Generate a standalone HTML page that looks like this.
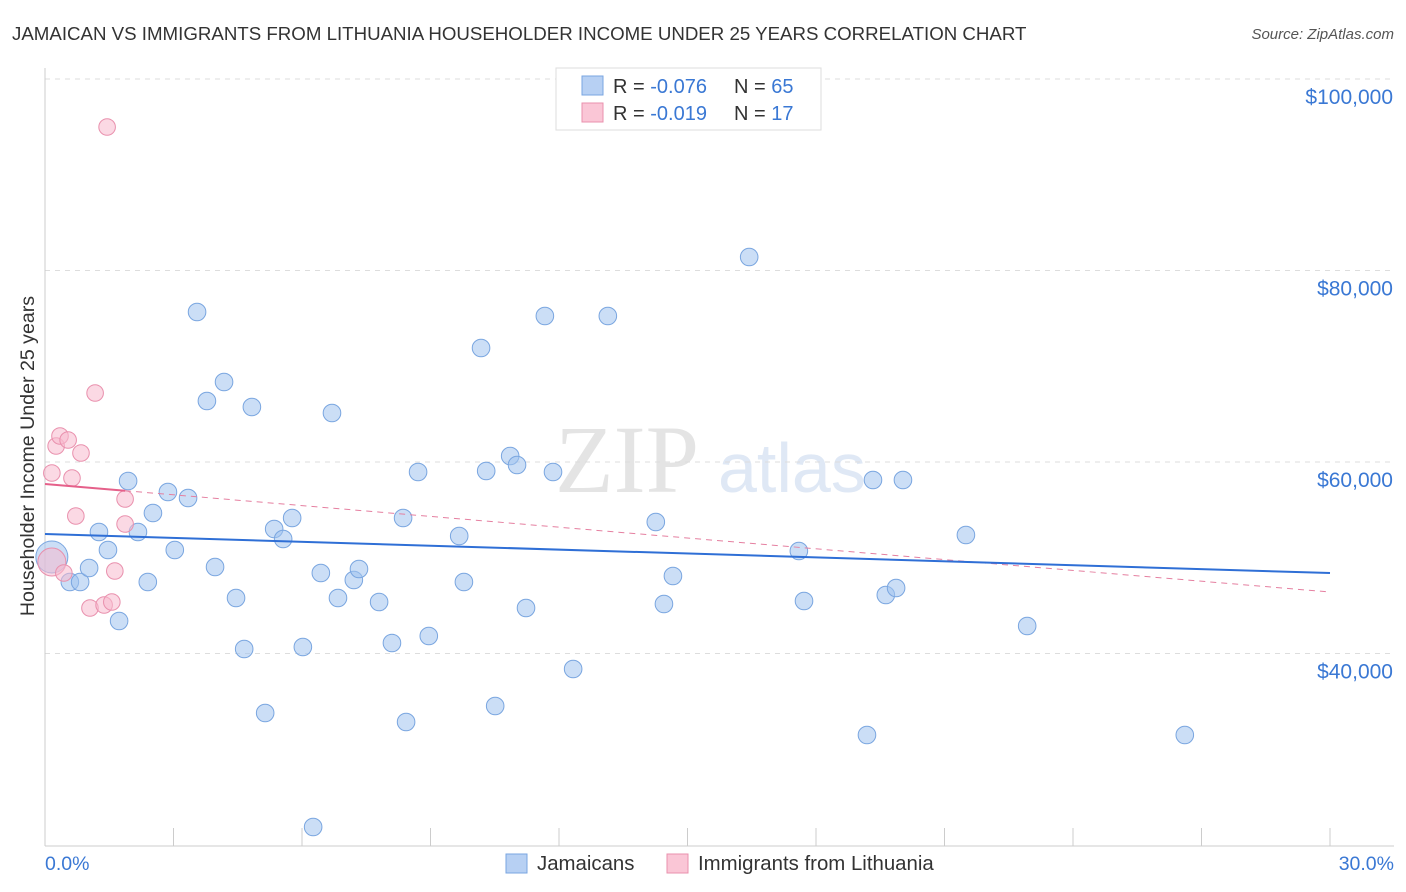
<!DOCTYPE html>
<html><head><meta charset="utf-8">
<style>
body{margin:0;background:#fff;font-family:"Liberation Sans",sans-serif;}
svg{display:block}
</style></head>
<body>
<svg id="chart" width="1406" height="892" xmlns="http://www.w3.org/2000/svg">
<text x="12" y="40" font-size="18.7" fill="#333">JAMAICAN VS IMMIGRANTS FROM LITHUANIA HOUSEHOLDER INCOME UNDER 25 YEARS CORRELATION CHART</text>
<text x="1394" y="39" font-size="15" fill="#555" text-anchor="end" font-style="italic">Source: ZipAtlas.com</text>
<text x="555" y="492" font-size="96" fill="#e4e4e4" font-family="Liberation Serif, serif">ZIP</text>
<text x="718" y="492" font-size="70" fill="#dfe8f5">atlas</text>
<g id="grid"></g>
<g id="axes"></g>
<g id="marks"></g>
<text transform="translate(34,456) rotate(-90)" font-size="19.6" fill="#333" text-anchor="middle">Householder Income Under 25 years</text>
<text x="45" y="870" font-size="19.5" fill="#3a78d4">0.0%</text>
<text x="1394" y="870" font-size="19.5" fill="#3a78d4" text-anchor="end">30.0%</text>
<g>
<rect x="556" y="68" width="265" height="62" fill="#fff" stroke="#ddd"/>
<rect x="582" y="76" width="21" height="19" fill="#b7d0f3" stroke="#7aa6e0"/>
<rect x="582" y="103" width="21" height="19" fill="#fac6d6" stroke="#e990ad"/>
<text x="613" y="93" font-size="20" fill="#333">R = <tspan fill="#3a78d4">-0.076</tspan><tspan x="734">N = </tspan><tspan fill="#3a78d4">65</tspan></text>
<text x="613" y="120" font-size="20" fill="#333">R = <tspan fill="#3a78d4"> -0.019</tspan><tspan x="734">N = </tspan><tspan fill="#3a78d4"> 17</tspan></text>
</g>
<g>
<rect x="506" y="854" width="21" height="19" fill="#b7d0f3" stroke="#7aa6e0"/>
<text x="537" y="870" font-size="20.4" fill="#333">Jamaicans</text>
<rect x="667" y="854" width="21" height="19" fill="#fac6d6" stroke="#e990ad"/>
<text x="698" y="870" font-size="20.4" fill="#333">Immigrants from Lithuania</text>
</g>
</svg>
<script>
const yTicks=[40000,60000,80000,100000];
const yTickLabels=["$40,000","$60,000","$80,000","$100,000"];
const xTicks=[0,3,6,9,12,15,18,21,24,27,30];
const blueX=[0.16,0.58,0.82,1.03,1.26,1.47,1.73,1.94,2.17,2.40,2.52,2.87,3.03,3.34,3.55,3.78,3.97,4.18,4.46,4.65,4.83,5.14,5.35,5.56,5.77,6.02,6.26,6.44,6.70,6.84,7.21,7.33,7.80,8.10,8.36,8.43,8.71,8.96,9.67,9.78,10.18,10.30,10.51,10.86,11.02,11.23,11.67,11.86,12.33,13.14,14.26,14.45,14.66,16.44,17.60,17.72,19.19,19.33,19.63,19.87,20.03,21.50,22.93,26.61];
const blueY=[50078,47467,47467,48929,52689,50809,43394,58015,52689,47467,54673,56866,50809,56240,75665,66370,49033,68355,45796,40469,65744,33785,53002,51958,54151,40678,21879,48407,65117,45796,47676,48824,45378,41096,54151,32845,58955,41827,52271,47467,71906,59060,34516,60626,59686,44751,75248,58955,38380,75248,53733,45169,48093,81410,50704,45482,31487,58120,46109,46840,58120,52375,42871,31487];
const pinkX=[0.16,0.16,0.26,0.35,0.54,0.44,0.63,0.72,0.84,1.05,1.17,1.38,1.45,1.56,1.63,1.87,1.87];
const pinkY=[49555,58851,61671,62715,62297,48407,58328,54360,60939,44751,67206,45065,94987,45378,48616,56135,53524];
const blueTrend=[52480,48405];
const pinkTrend=[57702,46422];
const pinkSolidEnd=1.87;

const NS="http://www.w3.org/2000/svg";
const X=p=>45+p*(1285/30);
const Y=v=>79+(100000-v)*191.5/20000;
function mk(tag,attrs,parent){const e=document.createElementNS(NS,tag);for(const k in attrs)e.setAttribute(k,attrs[k]);parent.appendChild(e);return e;}
const grid=document.getElementById('grid'),axes=document.getElementById('axes'),marks=document.getElementById('marks');
yTicks.forEach((v,i)=>{
 const l=mk('line',{x1:45,x2:1394,y1:Y(v),y2:Y(v),stroke:'#ddd','stroke-dasharray':'5,5'},grid);
 
 
 const t=mk('text',{x:1393,y:Y(v)+25,'font-size':21,fill:'#3a78d4','text-anchor':'end'},axes);
 t.textContent=yTickLabels[i];
 
 
});
const ax=mk('line',{x1:45,x2:1394,y1:846,y2:846,stroke:'#ccc'},axes);


const ay=mk('line',{x1:45,x2:45,y1:68,y2:846,stroke:'#ccc'},axes);


xTicks.forEach(p=>{
 const t=mk('line',{x1:X(p),x2:X(p),y1:828,y2:846,stroke:'#ccc'},axes);
 
 
});
blueX.forEach((p,i)=>{
 const c=mk('circle',{cx:X(p),cy:Y(blueY[i]),r:i===0?16:8.8,fill:'rgba(160,195,238,0.55)',stroke:'#7aa6e0','stroke-width':1},marks);
 
 
});
pinkX.forEach((p,i)=>{
 const c=mk('circle',{cx:X(p),cy:Y(pinkY[i]),r:i===0?14:8.3,fill:'rgba(248,185,205,0.55)',stroke:'#e990ad','stroke-width':1},marks);
 
 
});
const pv=p=>pinkTrend[0]+(pinkTrend[1]-pinkTrend[0])*p/30;
const pd=mk('line',{x1:X(pinkSolidEnd),y1:Y(pv(pinkSolidEnd)),x2:X(30),y2:Y(pinkTrend[1]),stroke:'#e57fa0','stroke-width':1,'stroke-dasharray':'6,5'},marks);


const ps=mk('line',{x1:X(0),y1:Y(pinkTrend[0]),x2:X(pinkSolidEnd),y2:Y(pv(pinkSolidEnd)),stroke:'#e5608a','stroke-width':2},marks);


const bt=mk('line',{x1:X(0),y1:Y(blueTrend[0]),x2:X(30),y2:Y(blueTrend[1]),stroke:'#2f6fd6','stroke-width':2},marks);


</script>
</body></html>
